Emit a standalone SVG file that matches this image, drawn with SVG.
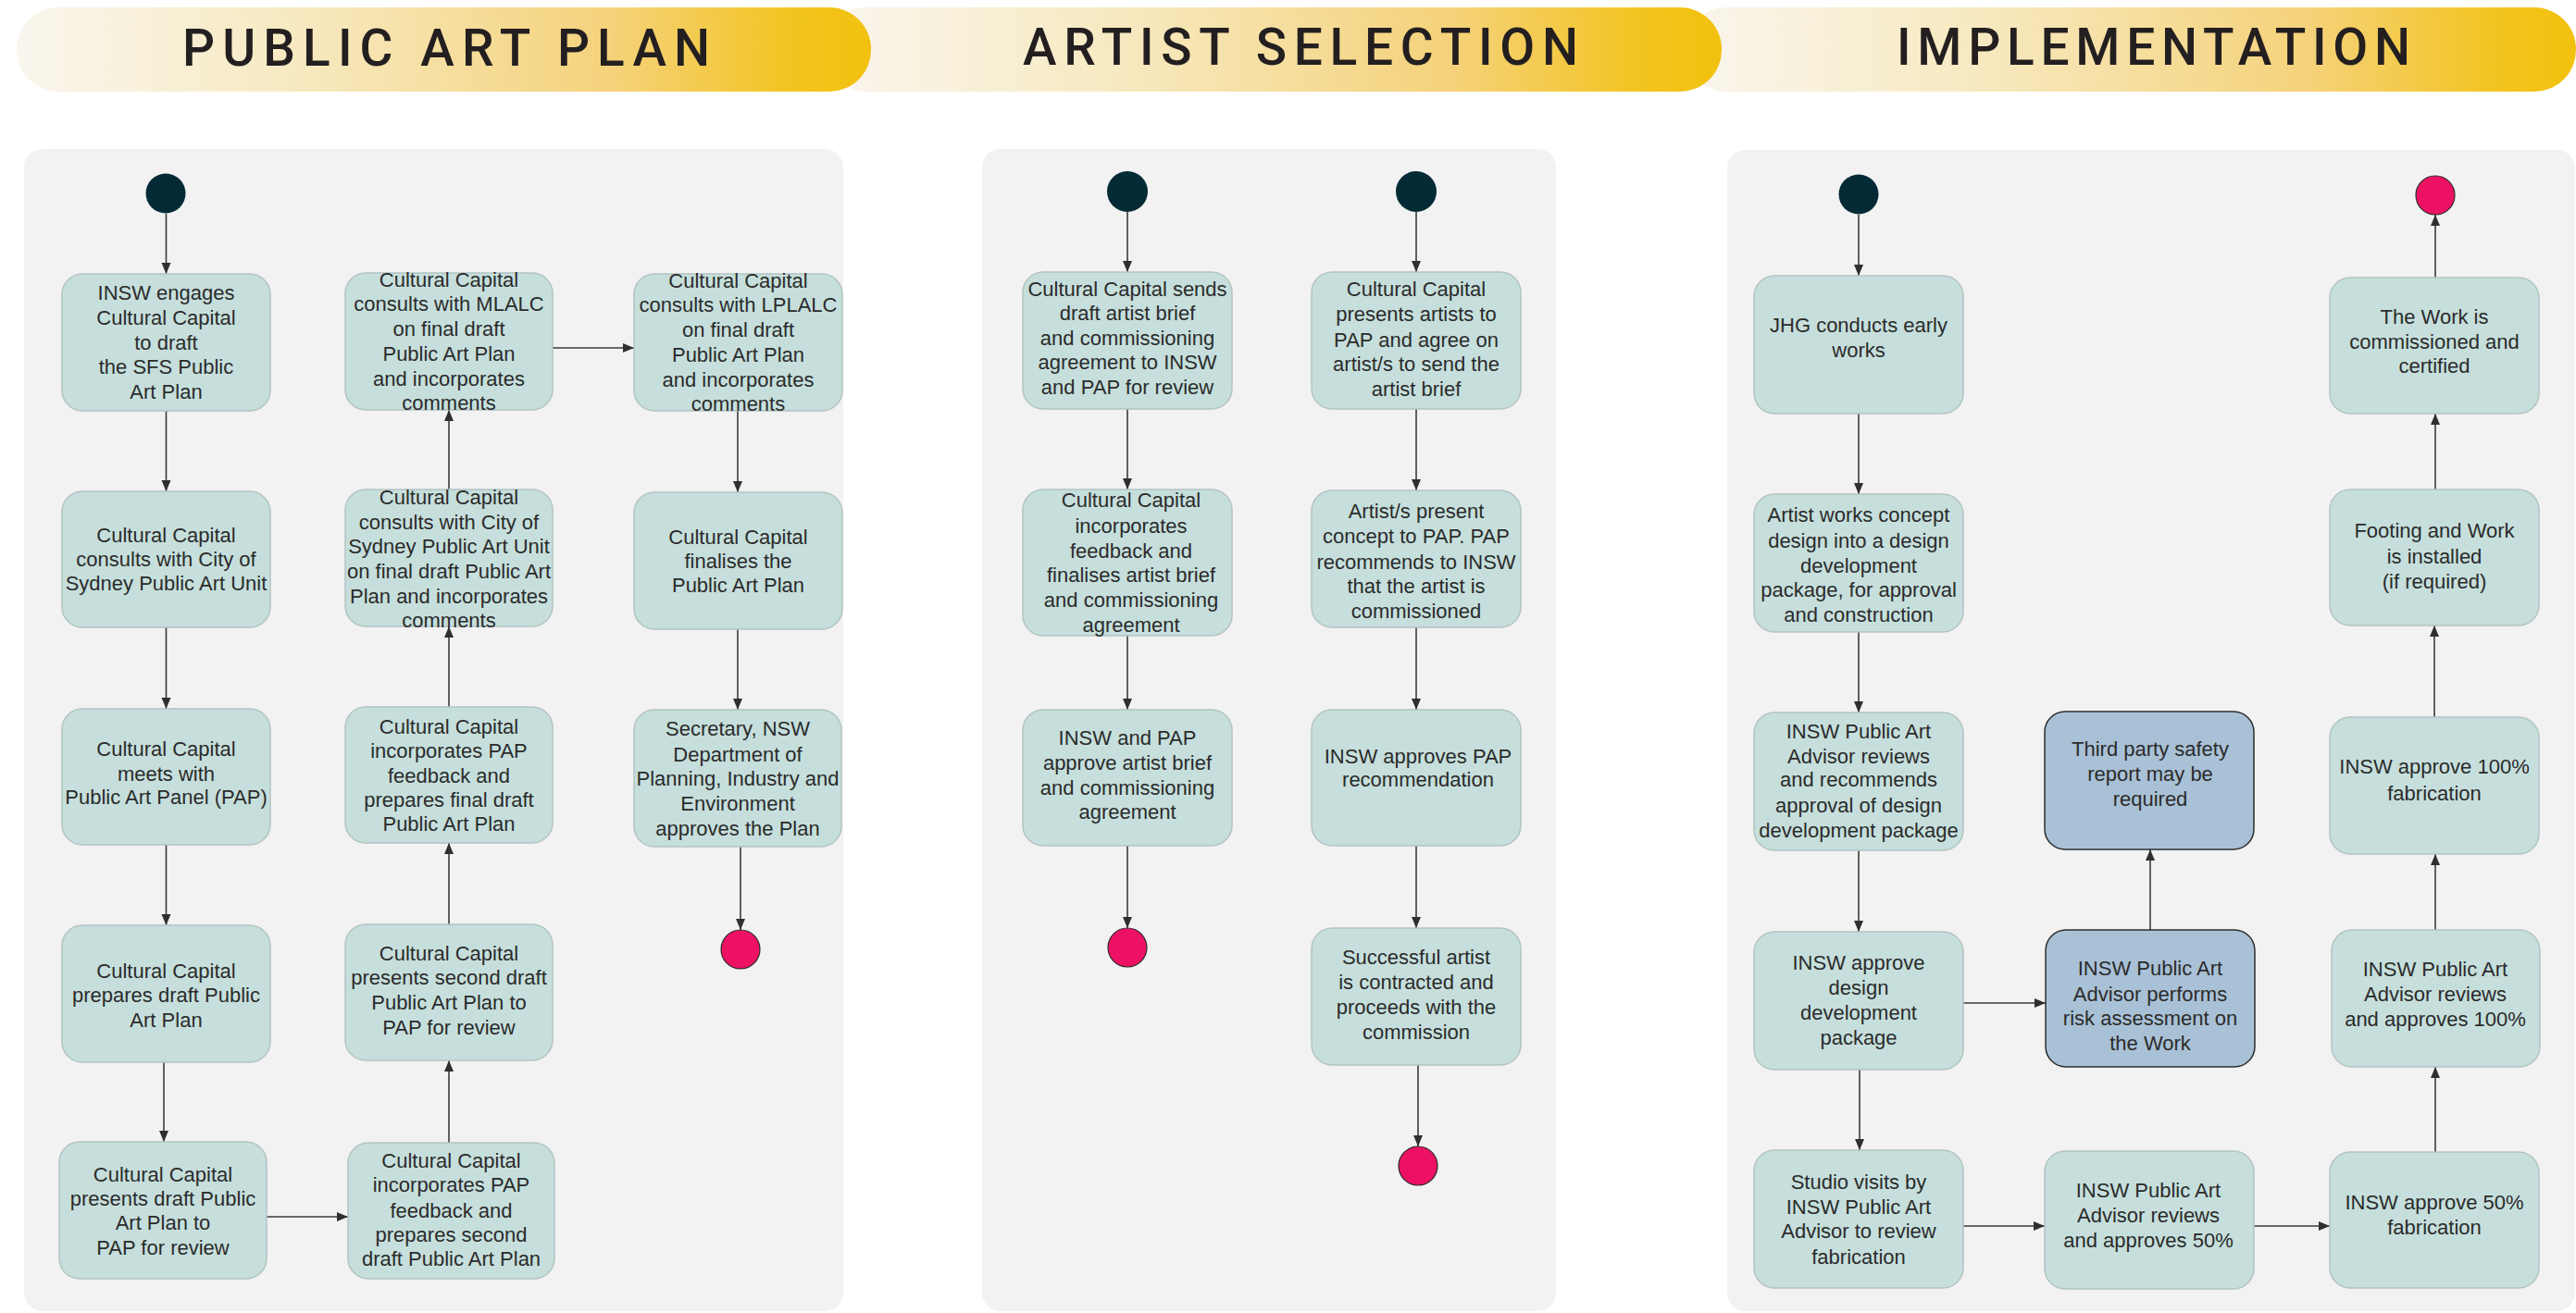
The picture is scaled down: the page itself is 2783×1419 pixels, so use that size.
<svg xmlns="http://www.w3.org/2000/svg" width="2783" height="1419" viewBox="0 0 2783 1419">
<defs>
<linearGradient id="band" x1="0" y1="0" x2="1" y2="0">
<stop offset="0" stop-color="#f9f6ee"/>
<stop offset="0.35" stop-color="#f7e8bd"/>
<stop offset="0.7" stop-color="#f5d27a"/>
<stop offset="0.92" stop-color="#f2c31c"/>
<stop offset="1" stop-color="#f2c10e"/>
</linearGradient>
<marker id="ah" markerUnits="userSpaceOnUse" markerWidth="13" markerHeight="11" refX="12" refY="5" orient="auto">
<path d="M0,0 L12,5 L0,10 z" fill="#2f2f2f"/>
</marker>
<style>
.panel{fill:#f2f2f2}
.box{fill:#c6dfdc;stroke:#b3c4c2;stroke-width:1.5}
.blue{fill:#a9c1d6;stroke:#2e2e2e;stroke-width:1.5}
.t{font-family:"Liberation Sans",Arial,sans-serif;font-size:22px;fill:#2b2b2b;text-anchor:middle}
.h{font-family:Roboto,"Liberation Sans",Arial,sans-serif;font-size:55px;font-weight:500;fill:#231f20}
.start{fill:#032a35}
.end{fill:#ed1164;stroke:#2a2a2a;stroke-width:1.2}
.conn line{stroke:#3a3a3a;stroke-width:1.6;marker-end:url(#ah)}
</style>
</defs>
<rect width="2783" height="1419" fill="#ffffff"/>

<!-- banners -->
<g id="banners">
<rect x="1820" y="8" width="963" height="91" rx="45" fill="url(#band)"/>
<rect x="890" y="8" width="970" height="91" rx="45" fill="url(#band)"/>
<rect x="18" y="8" width="923" height="91" rx="45" fill="url(#band)"/>
<text class="h" x="197" y="71" textLength="570" lengthAdjust="spacing">PUBLIC ART PLAN</text>
<text class="h" x="1105" y="70" textLength="600" lengthAdjust="spacing">ARTIST SELECTION</text>
<text class="h" x="2049" y="70" textLength="555" lengthAdjust="spacing">IMPLEMENTATION</text>
</g>

<!-- panels -->
<g id="panels">
<rect class="panel" x="26" y="161" width="885" height="1256" rx="20"/>
<rect class="panel" x="1061" y="161" width="620" height="1256" rx="20"/>
<rect class="panel" x="1866" y="162" width="916" height="1255" rx="20"/>
</g>

<!-- connectors -->
<g id="connectors" class="conn">
<line x1="179.5" y1="231" x2="179.5" y2="296"/>
<line x1="179.5" y1="444" x2="179.5" y2="531"/>
<line x1="179.5" y1="678" x2="179.5" y2="766"/>
<line x1="179.5" y1="913" x2="179.5" y2="1000"/>
<line x1="177" y1="1148" x2="177" y2="1234"/>
<line x1="288" y1="1315" x2="376" y2="1315"/>
<line x1="485" y1="1235" x2="485" y2="1146"/>
<line x1="485" y1="999" x2="485" y2="911"/>
<line x1="485" y1="764" x2="485" y2="677"/>
<line x1="485" y1="529" x2="485" y2="443"/>
<line x1="597" y1="376" x2="685" y2="376"/>
<line x1="797" y1="444" x2="797" y2="532"/>
<line x1="797" y1="680" x2="797" y2="767"/>
<line x1="800" y1="915" x2="800" y2="1005"/>

<line x1="1218" y1="229" x2="1218" y2="294"/>
<line x1="1218" y1="442" x2="1218" y2="529"/>
<line x1="1218" y1="687" x2="1218" y2="767"/>
<line x1="1218" y1="914" x2="1218" y2="1003"/>
<line x1="1530" y1="229" x2="1530" y2="294"/>
<line x1="1530" y1="442" x2="1530" y2="530"/>
<line x1="1530" y1="678" x2="1530" y2="767"/>
<line x1="1530" y1="914" x2="1530" y2="1003"/>
<line x1="1532" y1="1151" x2="1532" y2="1239"/>

<line x1="2008" y1="232" x2="2008" y2="298"/>
<line x1="2008" y1="447" x2="2008" y2="534"/>
<line x1="2008" y1="683" x2="2008" y2="770"/>
<line x1="2008" y1="919" x2="2008" y2="1007"/>
<line x1="2009" y1="1156" x2="2009" y2="1243"/>
<line x1="2121" y1="1084" x2="2210" y2="1084"/>
<line x1="2323" y1="1005" x2="2323" y2="918"/>
<line x1="2121" y1="1325" x2="2209" y2="1325"/>
<line x1="2435" y1="1325" x2="2517" y2="1325"/>
<line x1="2631" y1="1245" x2="2631" y2="1153"/>
<line x1="2631" y1="1005" x2="2631" y2="923"/>
<line x1="2630" y1="775" x2="2630" y2="676"/>
<line x1="2631" y1="529" x2="2631" y2="447"/>
<line x1="2631" y1="300" x2="2631" y2="232"/>
</g>

<!-- PUBLIC ART PLAN nodes -->
<g id="pap-start"><circle class="start" cx="179" cy="209" r="21.5"/></g>
<g id="p1"><rect class="box" x="67" y="296" width="225" height="148" rx="22"/>
<text class="t"><tspan x="179.5" y="324">INSW engages</tspan><tspan x="179.5" y="351">Cultural Capital</tspan><tspan x="179.5" y="378">to draft</tspan><tspan x="179.5" y="404">the SFS Public</tspan><tspan x="179.5" y="431">Art Plan</tspan></text></g>
<g id="p2"><rect class="box" x="67" y="531" width="225" height="147" rx="22"/>
<text class="t"><tspan x="179.5" y="585.5">Cultural Capital</tspan><tspan x="179.5" y="612">consults with City of</tspan><tspan x="179.5" y="638">Sydney Public Art Unit</tspan></text></g>
<g id="p3"><rect class="box" x="67" y="766" width="225" height="147" rx="22"/>
<text class="t"><tspan x="179.5" y="817">Cultural Capital</tspan><tspan x="179.5" y="844">meets with</tspan><tspan x="179.5" y="869">Public Art Panel (PAP)</tspan></text></g>
<g id="p4"><rect class="box" x="67" y="1000" width="225" height="148" rx="22"/>
<text class="t"><tspan x="179.5" y="1056.5">Cultural Capital</tspan><tspan x="179.5" y="1083">prepares draft Public</tspan><tspan x="179.5" y="1110">Art Plan</tspan></text></g>
<g id="p5"><rect class="box" x="64" y="1234" width="224" height="148" rx="22"/>
<text class="t"><tspan x="176" y="1276.5">Cultural Capital</tspan><tspan x="176" y="1303">presents draft Public</tspan><tspan x="176" y="1329">Art Plan to</tspan><tspan x="176" y="1356">PAP for review</tspan></text></g>
<g id="p6"><rect class="box" x="376" y="1235" width="223" height="147" rx="22"/>
<text class="t"><tspan x="487.5" y="1261.5">Cultural Capital</tspan><tspan x="487.5" y="1288">incorporates PAP</tspan><tspan x="487.5" y="1315.5">feedback and</tspan><tspan x="487.5" y="1342">prepares second</tspan><tspan x="487.5" y="1368">draft Public Art Plan</tspan></text></g>
<g id="p7"><rect class="box" x="373" y="999" width="224" height="147" rx="22"/>
<text class="t"><tspan x="485" y="1038">Cultural Capital</tspan><tspan x="485" y="1064">presents second draft</tspan><tspan x="485" y="1091">Public Art Plan to</tspan><tspan x="485" y="1118">PAP for review</tspan></text></g>
<g id="p8"><rect class="box" x="373" y="764" width="224" height="147" rx="22"/>
<text class="t"><tspan x="485" y="793">Cultural Capital</tspan><tspan x="485" y="819">incorporates PAP</tspan><tspan x="485" y="845.5">feedback and</tspan><tspan x="485" y="872">prepares final draft</tspan><tspan x="485" y="898">Public Art Plan</tspan></text></g>
<g id="p9"><rect class="box" x="373" y="529" width="224" height="148" rx="22"/>
<text class="t"><tspan x="485" y="545">Cultural Capital</tspan><tspan x="485" y="571.5">consults with City of</tspan><tspan x="485" y="598">Sydney Public Art Unit</tspan><tspan x="485" y="625">on final draft Public Art</tspan><tspan x="485" y="652">Plan and incorporates</tspan><tspan x="485" y="678">comments</tspan></text></g>
<g id="p10"><rect class="box" x="373" y="295" width="224" height="148" rx="22"/>
<text class="t"><tspan x="485" y="310">Cultural Capital</tspan><tspan x="485" y="336">consults with MLALC</tspan><tspan x="485" y="362.5">on final draft</tspan><tspan x="485" y="389.5">Public Art Plan</tspan><tspan x="485" y="417">and incorporates</tspan><tspan x="485" y="443">comments</tspan></text></g>
<g id="p11"><rect class="box" x="685" y="296" width="225" height="148" rx="22"/>
<text class="t"><tspan x="797.5" y="311">Cultural Capital</tspan><tspan x="797.5" y="336.5">consults with LPLALC</tspan><tspan x="797.5" y="364">on final draft</tspan><tspan x="797.5" y="391">Public Art Plan</tspan><tspan x="797.5" y="418">and incorporates</tspan><tspan x="797.5" y="443.5">comments</tspan></text></g>
<g id="p12"><rect class="box" x="685" y="532" width="225" height="148" rx="22"/>
<text class="t"><tspan x="797.5" y="587.5">Cultural Capital</tspan><tspan x="797.5" y="614">finalises the</tspan><tspan x="797.5" y="640">Public Art Plan</tspan></text></g>
<g id="p13"><rect class="box" x="685" y="767" width="224" height="148" rx="22"/>
<text class="t"><tspan x="797" y="795">Secretary, NSW</tspan><tspan x="797" y="822.5">Department of</tspan><tspan x="797" y="849">Planning, Industry and</tspan><tspan x="797" y="876">Environment</tspan><tspan x="797" y="903">approves the Plan</tspan></text></g>
<g id="pap-end"><circle class="end" cx="800" cy="1026" r="21"/></g>

<!-- ARTIST SELECTION nodes -->
<g id="as-start-a"><circle class="start" cx="1218" cy="207" r="22"/></g>
<g id="a1"><rect class="box" x="1105" y="294" width="226" height="148" rx="22"/>
<text class="t"><tspan x="1218" y="319.5">Cultural Capital sends</tspan><tspan x="1218" y="346">draft artist brief</tspan><tspan x="1218" y="372.5">and commissioning</tspan><tspan x="1218" y="399">agreement to INSW</tspan><tspan x="1218" y="426">and PAP for review</tspan></text></g>
<g id="a2"><rect class="box" x="1105" y="529" width="226" height="158" rx="22"/>
<text class="t"><tspan x="1222" y="548">Cultural Capital</tspan><tspan x="1222" y="576">incorporates</tspan><tspan x="1222" y="602.5">feedback and</tspan><tspan x="1222" y="629">finalises artist brief</tspan><tspan x="1222" y="656">and commissioning</tspan><tspan x="1222" y="683">agreement</tspan></text></g>
<g id="a3"><rect class="box" x="1105" y="767" width="226" height="147" rx="22"/>
<text class="t"><tspan x="1218" y="805">INSW and PAP</tspan><tspan x="1218" y="832">approve artist brief</tspan><tspan x="1218" y="859">and commissioning</tspan><tspan x="1218" y="885">agreement</tspan></text></g>
<g id="as-end-a"><circle class="end" cx="1218" cy="1024" r="21"/></g>
<g id="as-start-b"><circle class="start" cx="1530" cy="207" r="22"/></g>
<g id="b1"><rect class="box" x="1417" y="294" width="226" height="148" rx="22"/>
<text class="t"><tspan x="1530" y="320">Cultural Capital</tspan><tspan x="1530" y="347">presents artists to</tspan><tspan x="1530" y="374.5">PAP and agree on</tspan><tspan x="1530" y="401">artist/s to send the</tspan><tspan x="1530" y="428">artist brief</tspan></text></g>
<g id="b2"><rect class="box" x="1417" y="530" width="226" height="148" rx="22"/>
<text class="t"><tspan x="1530" y="560">Artist/s present</tspan><tspan x="1530" y="587">concept to PAP. PAP</tspan><tspan x="1530" y="614.5">recommends to INSW</tspan><tspan x="1530" y="641">that the artist is</tspan><tspan x="1530" y="668">commissioned</tspan></text></g>
<g id="b3"><rect class="box" x="1417" y="767" width="226" height="147" rx="22"/>
<text class="t"><tspan x="1532" y="824.5">INSW approves PAP</tspan><tspan x="1532" y="850">recommendation</tspan></text></g>
<g id="b4"><rect class="box" x="1417" y="1003" width="226" height="148" rx="22"/>
<text class="t"><tspan x="1530" y="1042">Successful artist</tspan><tspan x="1530" y="1069">is contracted and</tspan><tspan x="1530" y="1096">proceeds with the</tspan><tspan x="1530" y="1123">commission</tspan></text></g>
<g id="as-end-b"><circle class="end" cx="1532" cy="1260" r="21"/></g>

<!-- IMPLEMENTATION nodes -->
<g id="im-start"><circle class="start" cx="2008" cy="210" r="21.5"/></g>
<g id="c1"><rect class="box" x="1895" y="298" width="226" height="149" rx="22"/>
<text class="t"><tspan x="2008" y="359">JHG conducts early</tspan><tspan x="2008" y="386">works</tspan></text></g>
<g id="c2"><rect class="box" x="1895" y="534" width="226" height="149" rx="22"/>
<text class="t"><tspan x="2008" y="564">Artist works concept</tspan><tspan x="2008" y="592">design into a design</tspan><tspan x="2008" y="618.5">development</tspan><tspan x="2008" y="645">package, for approval</tspan><tspan x="2008" y="672">and construction</tspan></text></g>
<g id="c3"><rect class="box" x="1895" y="770" width="226" height="149" rx="22"/>
<text class="t"><tspan x="2008" y="798">INSW Public Art</tspan><tspan x="2008" y="824.5">Advisor reviews</tspan><tspan x="2008" y="850">and recommends</tspan><tspan x="2008" y="878">approval of design</tspan><tspan x="2008" y="904.5">development package</tspan></text></g>
<g id="c4"><rect class="box" x="1895" y="1007" width="226" height="149" rx="22"/>
<text class="t"><tspan x="2008" y="1048">INSW approve</tspan><tspan x="2008" y="1075">design</tspan><tspan x="2008" y="1102">development</tspan><tspan x="2008" y="1128.5">package</tspan></text></g>
<g id="c5"><rect class="box" x="1895" y="1243" width="226" height="149" rx="22"/>
<text class="t"><tspan x="2008" y="1285">Studio visits by</tspan><tspan x="2008" y="1311.5">INSW Public Art</tspan><tspan x="2008" y="1338">Advisor to review</tspan><tspan x="2008" y="1366">fabrication</tspan></text></g>
<g id="d1"><rect class="blue" x="2209" y="769" width="226" height="149" rx="22"/>
<text class="t"><tspan x="2323" y="817">Third party safety</tspan><tspan x="2323" y="844">report may be</tspan><tspan x="2323" y="870.5">required</tspan></text></g>
<g id="d2"><rect class="blue" x="2210" y="1005" width="226" height="148" rx="22"/>
<text class="t"><tspan x="2323" y="1054">INSW Public Art</tspan><tspan x="2323" y="1081.5">Advisor performs</tspan><tspan x="2323" y="1108">risk assessment on</tspan><tspan x="2323" y="1135">the Work</tspan></text></g>
<g id="d3"><rect class="box" x="2209" y="1244" width="226" height="149" rx="22"/>
<text class="t"><tspan x="2321" y="1293.5">INSW Public Art</tspan><tspan x="2321" y="1321">Advisor reviews</tspan><tspan x="2321" y="1348">and approves 50%</tspan></text></g>
<g id="e2"><rect class="box" x="2517" y="1245" width="226" height="147" rx="22"/>
<text class="t"><tspan x="2630" y="1307">INSW approve 50%</tspan><tspan x="2630" y="1334">fabrication</tspan></text></g>
<g id="e3"><rect class="box" x="2519" y="1005" width="225" height="148" rx="22"/>
<text class="t"><tspan x="2631" y="1054.5">INSW Public Art</tspan><tspan x="2631" y="1082">Advisor reviews</tspan><tspan x="2631" y="1109">and approves 100%</tspan></text></g>
<g id="e4"><rect class="box" x="2517" y="775" width="226" height="148" rx="22"/>
<text class="t"><tspan x="2630" y="836">INSW approve 100%</tspan><tspan x="2630" y="864.5">fabrication</tspan></text></g>
<g id="e5"><rect class="box" x="2517" y="529" width="226" height="147" rx="22"/>
<text class="t"><tspan x="2630" y="581">Footing and Work</tspan><tspan x="2630" y="609">is installed</tspan><tspan x="2630" y="635.5">(if required)</tspan></text></g>
<g id="e6"><rect class="box" x="2517" y="300" width="226" height="147" rx="22"/>
<text class="t"><tspan x="2630" y="350">The Work is</tspan><tspan x="2630" y="376.5">commissioned and</tspan><tspan x="2630" y="402.5">certified</tspan></text></g>
<g id="im-end"><circle class="end" cx="2631" cy="211" r="21"/></g>
</svg>
